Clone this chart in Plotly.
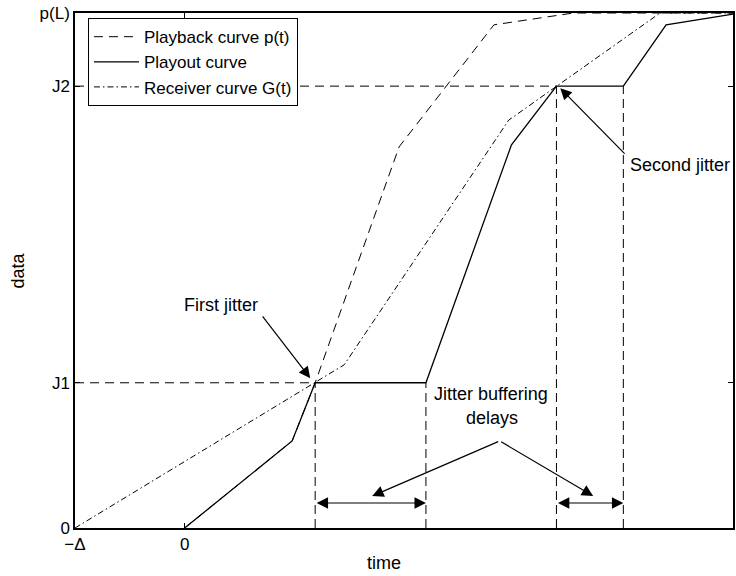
import plotly.graph_objects as go

# ---- data ----
DELTA = 20.0
L = 100.0
P_L = 100.0
J1 = 28.2
J2 = 85.8

playback_t = [0, 19.6, 23.8, 39.1, 56.4, 70.9, 100]
playback_y = [0, 16.9, 28.2, 74.0, 97.7, 100, 100]

playout_t = [0, 19.6, 23.8, 44.0, 59.6, 67.8, 80.0, 87.8, 100]
playout_y = [0, 16.9, 28.2, 28.2, 74.4, 85.8, 85.8, 97.7, 99.8]

receiver_t = [-20, 23.8, 29.1, 59.1, 67.8, 86.7, 100]
receiver_y = [0, 28.2, 31.7, 79.2, 85.8, 100, 100]

jitter_starts = [23.8, 67.8]
jitter_ends = [44.0, 80.0]
jitter_levels = [J1, J2]

x_tickvals = [-DELTA, 0, L]
x_ticktext = ["\u2212\u0394", "0", "L"]
y_tickvals = [0, J1, J2, P_L]
y_ticktext = ["0", "J1", "J2", "p(L)"]

FONT = "Liberation Sans, Arial, sans-serif"
FS = 17
FS_ANN = 18

fig = go.Figure()

# guide lines (dashed) derived from the jitter events
for s, e, lev in zip(jitter_starts, jitter_ends, jitter_levels):
    fig.add_trace(go.Scatter(x=[-DELTA, s], y=[lev, lev], mode="lines", showlegend=False,
                             line=dict(color="black", width=1, dash="9px,6px"), hoverinfo="skip"))
    for xv in (s, e):
        fig.add_trace(go.Scatter(x=[xv, xv], y=[0, lev], mode="lines", showlegend=False,
                                 line=dict(color="black", width=1, dash="9px,5px"), hoverinfo="skip"))

fig.add_trace(go.Scatter(x=playback_t, y=playback_y, mode="lines", name="Playback curve p(t)",
                         line=dict(color="black", width=1, dash="9px,6px")))
fig.add_trace(go.Scatter(x=playout_t, y=playout_y, mode="lines", name="Playout curve",
                         line=dict(color="black", width=1.3)))
fig.add_trace(go.Scatter(x=receiver_t, y=receiver_y, mode="lines", name="Receiver curve G(t)",
                         line=dict(color="black", width=1, dash="6px,3px,1.5px,3px")))

annotations = []
# text labels
text_labels = [
    ("First jitter", 6.7, 43.3, "center"),
    ("Second jitter", 80.9, 70.5, "left"),
    ("Jitter buffering", 55.8, 26.0, "center"),
    ("delays", 56.0, 21.4, "center"),
]
for txt, xv, yv, anc in text_labels:
    annotations.append(dict(text=txt, x=xv, y=yv, xref="x", yref="y", showarrow=False,
                            xanchor=anc, yanchor="middle",
                            font=dict(family=FONT, size=FS_ANN, color="black")))

# single arrows: (tail_x, tail_y, head_x, head_y)
arrows = [
    (14.0, 41.4, 22.9, 29.1),
    (80.5, 72.4, 68.5, 85.4),
    (57.45, 16.9, 34.2, 6.2),
    (57.45, 16.9, 74.5, 6.2),
]
for tx, ty, hx, hy in arrows:
    annotations.append(dict(text="", x=hx, y=hy, ax=tx, ay=ty, xref="x", yref="y",
                            axref="x", ayref="y", showarrow=True, arrowhead=2,
                            arrowsize=1.9, arrowwidth=1.2, arrowcolor="black", standoff=0))

# double arrows spanning the buffering delays
ARROW_Y = 4.85
for s, e in zip(jitter_starts, jitter_ends):
    annotations.append(dict(text="", x=e, y=ARROW_Y, ax=s, ay=ARROW_Y, xref="x", yref="y",
                            axref="x", ayref="y", showarrow=True, arrowhead=2, startarrowhead=2,
                            arrowside="end+start", arrowsize=1.9, startarrowsize=1.9,
                            arrowwidth=1.2, arrowcolor="black", standoff=0, startstandoff=0))

# axis titles
annotations.append(dict(text="data", x=-0.088, y=0.5, xref="paper", yref="paper", showarrow=False,
                        textangle=-90, xanchor="center", yanchor="middle",
                        font=dict(family=FONT, size=FS_ANN, color="black")))
annotations.append(dict(text="time", x=0.4697, y=-0.068, xref="paper", yref="paper", showarrow=False,
                        xanchor="center", yanchor="middle",
                        font=dict(family=FONT, size=FS_ANN, color="black")))

axis_common = dict(showgrid=False, zeroline=False, showline=True, linecolor="black", linewidth=1.5,
                   mirror="ticks", ticks="inside", ticklen=5, tickcolor="black",
                   tickfont=dict(family=FONT, size=FS, color="black"))

fig.update_layout(
    width=736, height=576,
    margin=dict(l=75, r=1, t=13, b=48),
    paper_bgcolor="white", plot_bgcolor="white",
    font=dict(family=FONT, size=FS, color="black"),
    xaxis=dict(range=[-DELTA, L], tickvals=x_tickvals, ticktext=x_ticktext, **axis_common),
    yaxis=dict(range=[0, P_L], tickvals=y_tickvals, ticktext=y_ticktext, **axis_common),
    legend=dict(x=0.0197, y=0.99, xanchor="left", yanchor="top", bgcolor="white",
                bordercolor="black", borderwidth=1, itemwidth=45,
                font=dict(family=FONT, size=FS, color="black")),
    annotations=annotations,
    showlegend=True,
)

fig.write_html("out.html")
